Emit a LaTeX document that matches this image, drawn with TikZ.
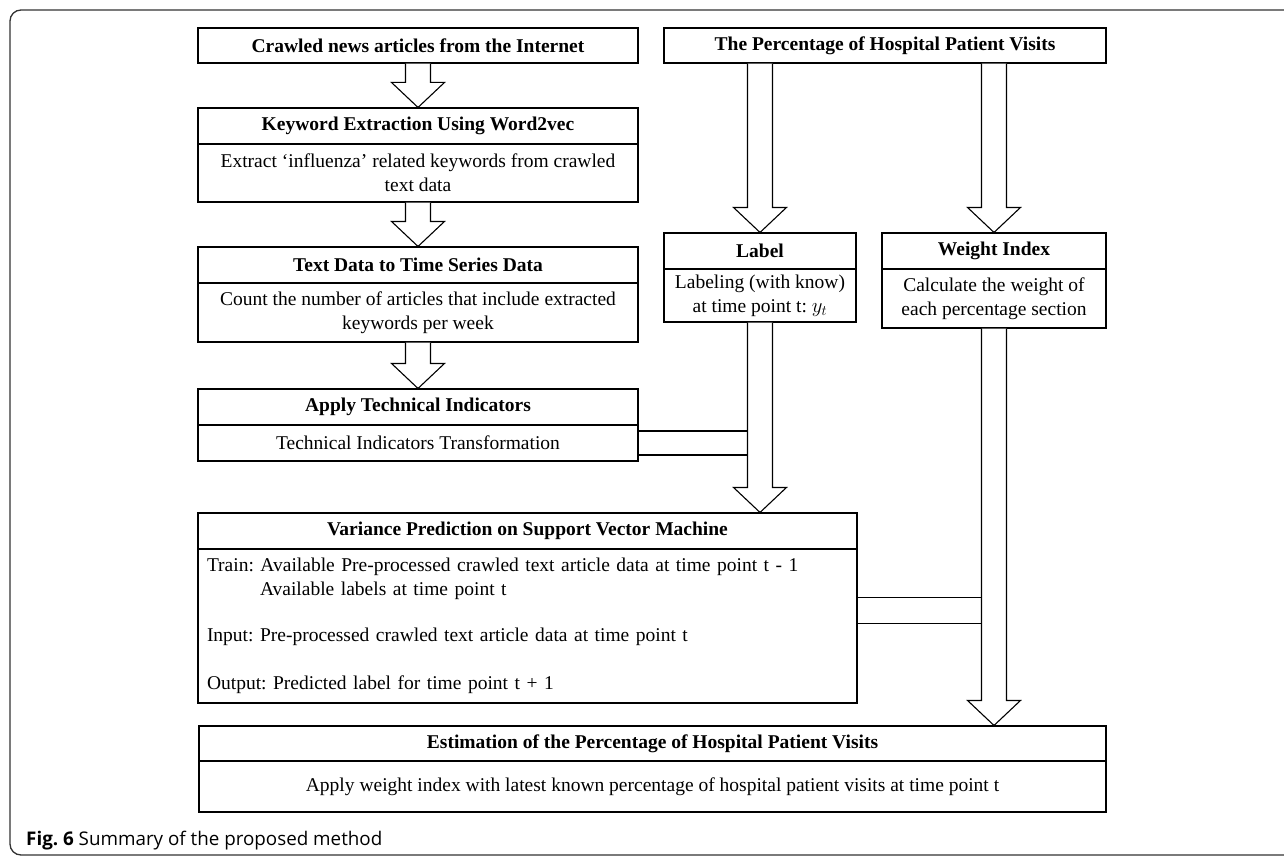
\documentclass[tikz,border=0pt]{standalone}
\usepackage{fontspec}
\setmainfont{Liberation Serif}
\newfontfamily\capfont{Open Sans}
\usetikzlibrary{calc}
\frenchspacing
\tikzset{
  box/.style={draw, line width=1.1pt, rectangle, inner sep=2pt, align=center,
    font=\frenchspacing\fontsize{19.5}{24}\selectfont},
  hdr/.style={box, font=\frenchspacing\bfseries\fontsize{19.5}{24}\selectfont},
  arr/.style={draw, line width=1.1pt, fill=white, line join=miter},
  pipe/.style={draw, line width=1.1pt},
  frame/.style={draw=black!80, line width=1.3pt, rounded corners=11pt},
}
\newcommand{\blockarr}[2]{%
  \path[arr] let \p1=#1, \p2=#2 in
    (\x2-12.5pt,\y1) -- (\x2-12.5pt,\y2+25pt) -- (\x2-26.5pt,\y2+25pt) --
    (\x2,\y2) -- (\x2+26.5pt,\y2+25pt) -- (\x2+12.5pt,\y2+25pt) -- (\x2+12.5pt,\y1);}
\begin{document}
\begin{tikzpicture}[x=1pt,y=-1pt]
\useasboundingbox (0,0) rectangle (1284,856);
\fill[white] (0,0) rectangle (1284,856);
\draw[frame] (1320,10) -- (10,10) -- (10,855) -- (1320,855);

% left column
\node[hdr, minimum width=440pt, minimum height=35pt] (b1h) at (418,45.5) {Crawled news articles from the Internet};
\node[hdr, minimum width=440pt, minimum height=36pt] (b2h) at (418,126) {Keyword Extraction Using Word2vec};
\node[box, minimum width=440pt, minimum height=58pt] (b2b) at (418,173) {Extract ‘influenza’ related keywords from crawled\\text data};
\node[hdr, minimum width=440pt, minimum height=36pt] (b3h) at (418,265) {Text Data to Time Series Data};
\node[box, minimum width=440pt, minimum height=59pt] (b3b) at (418,312.5) {Count the number of articles that include extracted\\keywords per week};
\node[hdr, minimum width=440pt, minimum height=36pt] (b4h) at (418,407) {Apply Technical Indicators};
\node[box, minimum width=440pt, minimum height=36pt] (b4b) at (418,443) {Technical Indicators Transformation};

% right column
\node[hdr, minimum width=442pt, minimum height=35pt] (tp) at (885,45.5) {The Percentage of Hospital Patient Visits};
\node[hdr, minimum width=192pt, minimum height=36pt] (labh) at (760,251) {Label};
\node[box, minimum width=192pt, minimum height=53pt] (labb) at (760,295.5) {Labeling (with know)\\at time point t: $y_t$};
\node[hdr, minimum width=224pt, minimum height=36pt] (wth) at (994,251) {Weight Index};
\node[box, minimum width=224pt, minimum height=59pt] (wtb) at (994,298.5) {Calculate the weight of\\each percentage section};

% SVM
\node[hdr, minimum width=659pt, minimum height=36pt] (svmh) at (527.5,531) {Variance Prediction on Support Vector Machine};
\node[box, minimum width=659pt, minimum height=154pt, text width=641pt, inner xsep=9pt, align=left] (svmb) at (527.5,626)
 {Train: Available Pre-processed crawled text article data at time point t - 1\\
  \hspace*{53pt}Available labels at time point t\\[22pt]
  Input: Pre-processed crawled text article data at time point t\\[24pt]
  Output: Predicted label for time point t + 1};

% estimation
\node[hdr, minimum width=907pt, minimum height=35pt] (esth) at (652.5,743.5) {Estimation of the Percentage of Hospital Patient Visits};
\node[box, minimum width=907pt, minimum height=51pt] (estb) at (652.5,786.5) {Apply weight index with latest known percentage of hospital patient visits at time point t};

% block arrows
\blockarr{(b1h.south)}{(b2h.north)}
\blockarr{(b2b.south)}{(b3h.north)}
\blockarr{(b3b.south)}{(b4h.north)}
\blockarr{(tp.south -| labh.north)}{(labh.north)}
\blockarr{(tp.south -| wth.north)}{(wth.north)}
\blockarr{(labb.south)}{(svmh.north -| labb.south)}
\blockarr{(wtb.south)}{(esth.north -| wtb.south)}

% pipes
\coordinate (lsh) at ($(labb.south)+(-12.5,0)$);
\coordinate (wsh) at ($(wtb.south)+(-12.5,0)$);
\coordinate (p1t) at ($(b4b.east)+(0,-12)$);
\coordinate (p1b) at ($(b4b.east)+(0,12)$);
\draw[pipe] (p1t) -- (p1t -| lsh);
\draw[pipe] (p1b) -- (p1b -| lsh);
\coordinate (p2t) at ($(svmb.north east)+(0,49)$);
\coordinate (p2b) at ($(svmb.north east)+(0,75)$);
\draw[pipe] (p2t) -- (p2t -| wsh);
\draw[pipe] (p2b) -- (p2b -| wsh);

% caption
\node[anchor=base west, inner sep=0pt, font=\capfont\fontsize{18.8}{22}\selectfont] (cap) at (26,845)
  {\textbf{Fig. 6} Summary of the proposed method};
\end{tikzpicture}
\end{document}
